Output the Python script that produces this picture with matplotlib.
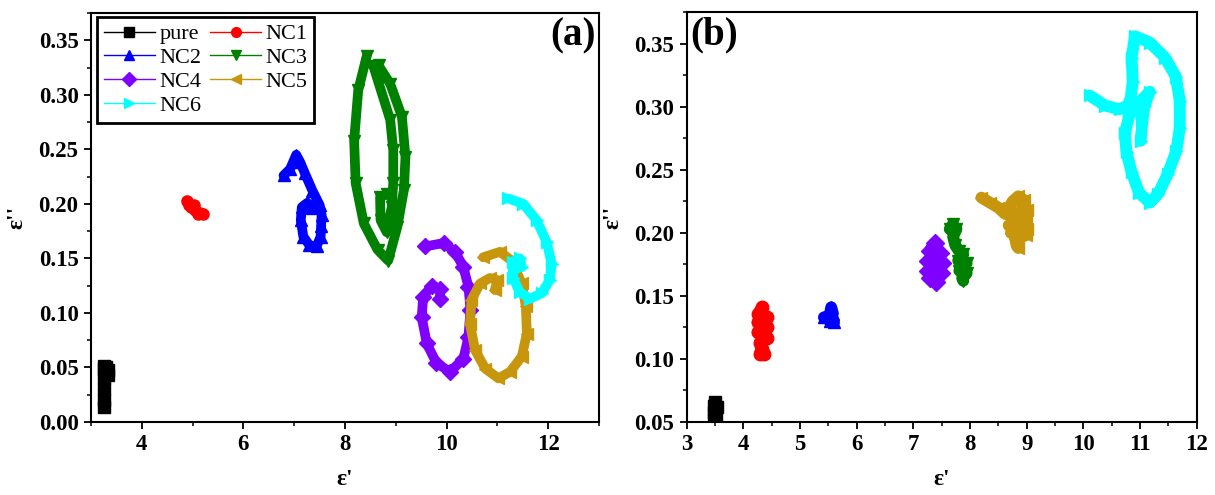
import matplotlib
matplotlib.use("Agg")
import matplotlib.pyplot as plt
from matplotlib.lines import Line2D
from matplotlib.ticker import MultipleLocator, FormatStrFormatter

plt.rcParams['font.family'] = ['Liberation Serif', 'DejaVu Serif']
plt.rcParams['font.weight'] = 'bold'

labels = ["pure", "NC1", "NC2", "NC3", "NC4", "NC5", "NC6"]
colors = ["#000000", "#FF0000", "#0000FF", "#008000", "#8000FF", "#C8960C", "#00FFFF"]
markers = ["s", "o", "^", "v", "D", "<", ">"]

# ---- panel (a) : e' , e''
pure_a_x = [3.26, 3.26, 3.25, 3.25, 3.25, 3.26, 3.30, 3.34, 3.34]
pure_a_y = [0.014, 0.020, 0.030, 0.040, 0.049, 0.051, 0.050, 0.048, 0.043]
nc1_a_x = [4.88, 4.92, 4.97, 5.02, 5.05, 5.10, 5.15, 5.20]
nc1_a_y = [0.203, 0.199, 0.197, 0.199, 0.194, 0.191, 0.192, 0.191]
nc2_a_x = [6.79, 6.92, 7.04, 7.12, 7.21, 7.36, 7.50, 7.54, 7.53, 7.52, 7.44, 7.30, 7.18, 7.13, 7.15, 7.26, 7.36]
nc2_a_y = [0.226, 0.232, 0.245, 0.238, 0.228, 0.212, 0.199, 0.190, 0.180, 0.170, 0.161, 0.162, 0.170, 0.185, 0.197, 0.201, 0.196]
nc3_a_x = [8.43, 8.26, 8.18, 8.21, 8.37, 8.64, 8.85, 9.03, 9.16, 9.19, 9.12, 8.89, 8.66,
           8.56, 8.89, 8.95, 8.95, 8.92, 8.82, 8.70, 8.69, 8.82]
nc3_a_y = [0.336, 0.304, 0.258, 0.219, 0.182, 0.158, 0.148, 0.179, 0.213, 0.243, 0.280, 0.310, 0.327,
           0.326, 0.277, 0.249, 0.219, 0.197, 0.174, 0.185, 0.206, 0.209]
nc4_a_x = [9.58, 9.94, 10.17, 10.33, 10.43, 10.47, 10.43, 10.33, 10.07, 9.80, 9.61, 9.51, 9.54, 9.71, 9.87, 9.87]
nc4_a_y = [0.161, 0.164, 0.156, 0.142, 0.124, 0.103, 0.078, 0.058, 0.046, 0.054, 0.072, 0.096, 0.115, 0.125, 0.122, 0.113]
nc5_a_x = [10.72, 11.05, 11.28, 11.48, 11.56, 11.58, 11.48, 11.25, 11.02, 10.76, 10.56, 10.46, 10.49, 10.66, 10.85, 11.00, 10.95]
nc5_a_y = [0.151, 0.156, 0.148, 0.127, 0.106, 0.081, 0.060, 0.046, 0.040, 0.049, 0.066, 0.090, 0.112, 0.127, 0.132, 0.130, 0.121]
nc6_a_x = [11.21, 11.51, 11.77, 11.97, 12.07, 12.03, 11.87, 11.64, 11.44, 11.31, 11.30, 11.44, 11.48]
nc6_a_y = [0.205, 0.200, 0.185, 0.165, 0.145, 0.130, 0.118, 0.113, 0.119, 0.132, 0.147, 0.150, 0.142]

# ---- panel (b)
pure_b_x = [3.48, 3.48, 3.49, 3.50, 3.53, 3.52]
pure_b_y = [0.052, 0.058, 0.063, 0.066, 0.062, 0.055]
nc1_b_x = [4.33, 4.26, 4.41, 4.25, 4.42, 4.25, 4.41, 4.29, 4.32, 4.29, 4.37]
nc1_b_y = [0.141, 0.136, 0.133, 0.129, 0.125, 0.121, 0.117, 0.113, 0.108, 0.104, 0.104]
nc2_b_x = [5.42, 5.52, 5.55, 5.58, 5.52, 5.60, 5.55]
nc2_b_y = [0.133, 0.134, 0.141, 0.136, 0.130, 0.129, 0.135]
nc3_b_x = [7.70, 7.64, 7.76, 7.70, 7.74, 7.80, 7.88, 7.79, 7.94, 7.81, 7.94, 7.86, 7.88]
nc3_b_y = [0.207, 0.203, 0.203, 0.197, 0.190, 0.186, 0.183, 0.178, 0.176, 0.170, 0.168, 0.164, 0.162]
nc4_b_x = [7.38, 7.29, 7.47, 7.26, 7.50, 7.26, 7.49, 7.30, 7.40, 7.36]
nc4_b_y = [0.192, 0.186, 0.184, 0.178, 0.176, 0.170, 0.168, 0.164, 0.161, 0.170]
nc5_b_x = [8.20, 8.35, 8.50, 8.62, 8.75, 8.85, 8.95, 9.00, 8.70, 8.98, 8.68, 9.01, 8.72, 8.98, 8.80, 8.82, 8.85]
nc5_b_y = [0.228, 0.224, 0.220, 0.215, 0.225, 0.229, 0.226, 0.218, 0.214, 0.210, 0.206, 0.203, 0.200, 0.198, 0.195, 0.190, 0.188]
nc6_b_x = [10.11, 10.38, 10.64, 10.82, 10.87, 10.85, 10.91, 11.17, 11.44, 11.63, 11.70, 11.70, 11.64,
           11.49, 11.32, 11.17, 10.98, 10.85, 10.76, 10.73, 10.81, 10.97, 11.17, 11.08, 11.04, 11.01]
nc6_b_y = [0.309, 0.301, 0.298, 0.302, 0.320, 0.339, 0.356, 0.351, 0.339, 0.324, 0.305, 0.283, 0.265,
           0.247, 0.231, 0.224, 0.232, 0.248, 0.264, 0.279, 0.293, 0.303, 0.312, 0.301, 0.289, 0.273]

series_a = [(pure_a_x, pure_a_y), (nc1_a_x, nc1_a_y), (nc2_a_x, nc2_a_y), (nc3_a_x, nc3_a_y),
            (nc4_a_x, nc4_a_y), (nc5_a_x, nc5_a_y), (nc6_a_x, nc6_a_y)]
series_b = [(pure_b_x, pure_b_y), (nc1_b_x, nc1_b_y), (nc2_b_x, nc2_b_y), (nc3_b_x, nc3_b_y),
            (nc4_b_x, nc4_b_y), (nc5_b_x, nc5_b_y), (nc6_b_x, nc6_b_y)]

fig = plt.figure(figsize=(12.15, 4.95), dpi=100)
ax1 = fig.add_axes([0.0749, 0.1475, 0.4181, 0.8263])
ax2 = fig.add_axes([0.5652, 0.1475, 0.4198, 0.8277])


def draw(ax, series, lw, ms):
    for (x, y), c, m in zip(series, colors, markers):
        ax.plot(x, y, color=c, lw=lw, marker=m, ms=ms, mec=c,
                solid_joinstyle='round', solid_capstyle='round')


def style(ax):
    for s in ax.spines.values():
        s.set_linewidth(1.5)
    ax.tick_params(which='major', direction='out', length=5, width=1.3,
                   labelsize=16.5, pad=4, top=False, right=False)
    ax.tick_params(which='minor', direction='out', length=3, width=1.1, top=False, right=False)
    for t in ax.get_xticklabels() + ax.get_yticklabels():
        t.set_fontweight('bold')
    ax.yaxis.set_major_formatter(FormatStrFormatter('%.2f'))
    ax.yaxis.set_major_locator(MultipleLocator(0.05))
    ax.yaxis.set_minor_locator(MultipleLocator(0.025))
    ax.set_xlabel("ε'", fontsize=17, fontweight='bold', labelpad=10)
    ax.set_ylabel("ε''", fontsize=17, fontweight='bold', labelpad=8)


draw(ax1, series_a, 7, 8)
ax1.set_xlim(3, 13)
ax1.set_ylim(0, 0.375)
ax1.xaxis.set_major_locator(MultipleLocator(2))
ax1.xaxis.set_minor_locator(MultipleLocator(1))
ax1.set_xticks([4, 6, 8, 10, 12])
style(ax1)
ax1.text(0.994, 0.99, "(a)", transform=ax1.transAxes, ha='right', va='top',
         fontsize=28, fontweight='bold')

draw(ax2, series_b, 8.5, 9)
ax2.set_xlim(3, 12)
ax2.set_ylim(0.05, 0.375)
ax2.xaxis.set_major_locator(MultipleLocator(1))
ax2.xaxis.set_minor_locator(MultipleLocator(0.5))
style(ax2)
ax2.text(0.006, 0.99, "(b)", transform=ax2.transAxes, ha='left', va='top',
         fontsize=28, fontweight='bold')

# legend, filled row by row like the original
handles = [Line2D([], [], color=c, marker=m, lw=1, ms=7, label=l)
           for c, m, l in zip(colors, markers, labels)]
order = [0, 2, 4, 6, 1, 3, 5]
leg = ax1.legend([handles[i] for i in order], [labels[i] for i in order], ncol=2,
                 loc='upper left', bbox_to_anchor=(0.012, 0.99), borderaxespad=0,
                 fancybox=False, framealpha=1, edgecolor='black',
                 prop={'family': 'Liberation Serif', 'weight': 'normal', 'size': 16},
                 handlelength=2.3, handletextpad=0.2, columnspacing=0.4,
                 labelspacing=0.15, borderpad=0.3)
leg.get_frame().set_linewidth(2)

fig.savefig("out.png", dpi=100)
